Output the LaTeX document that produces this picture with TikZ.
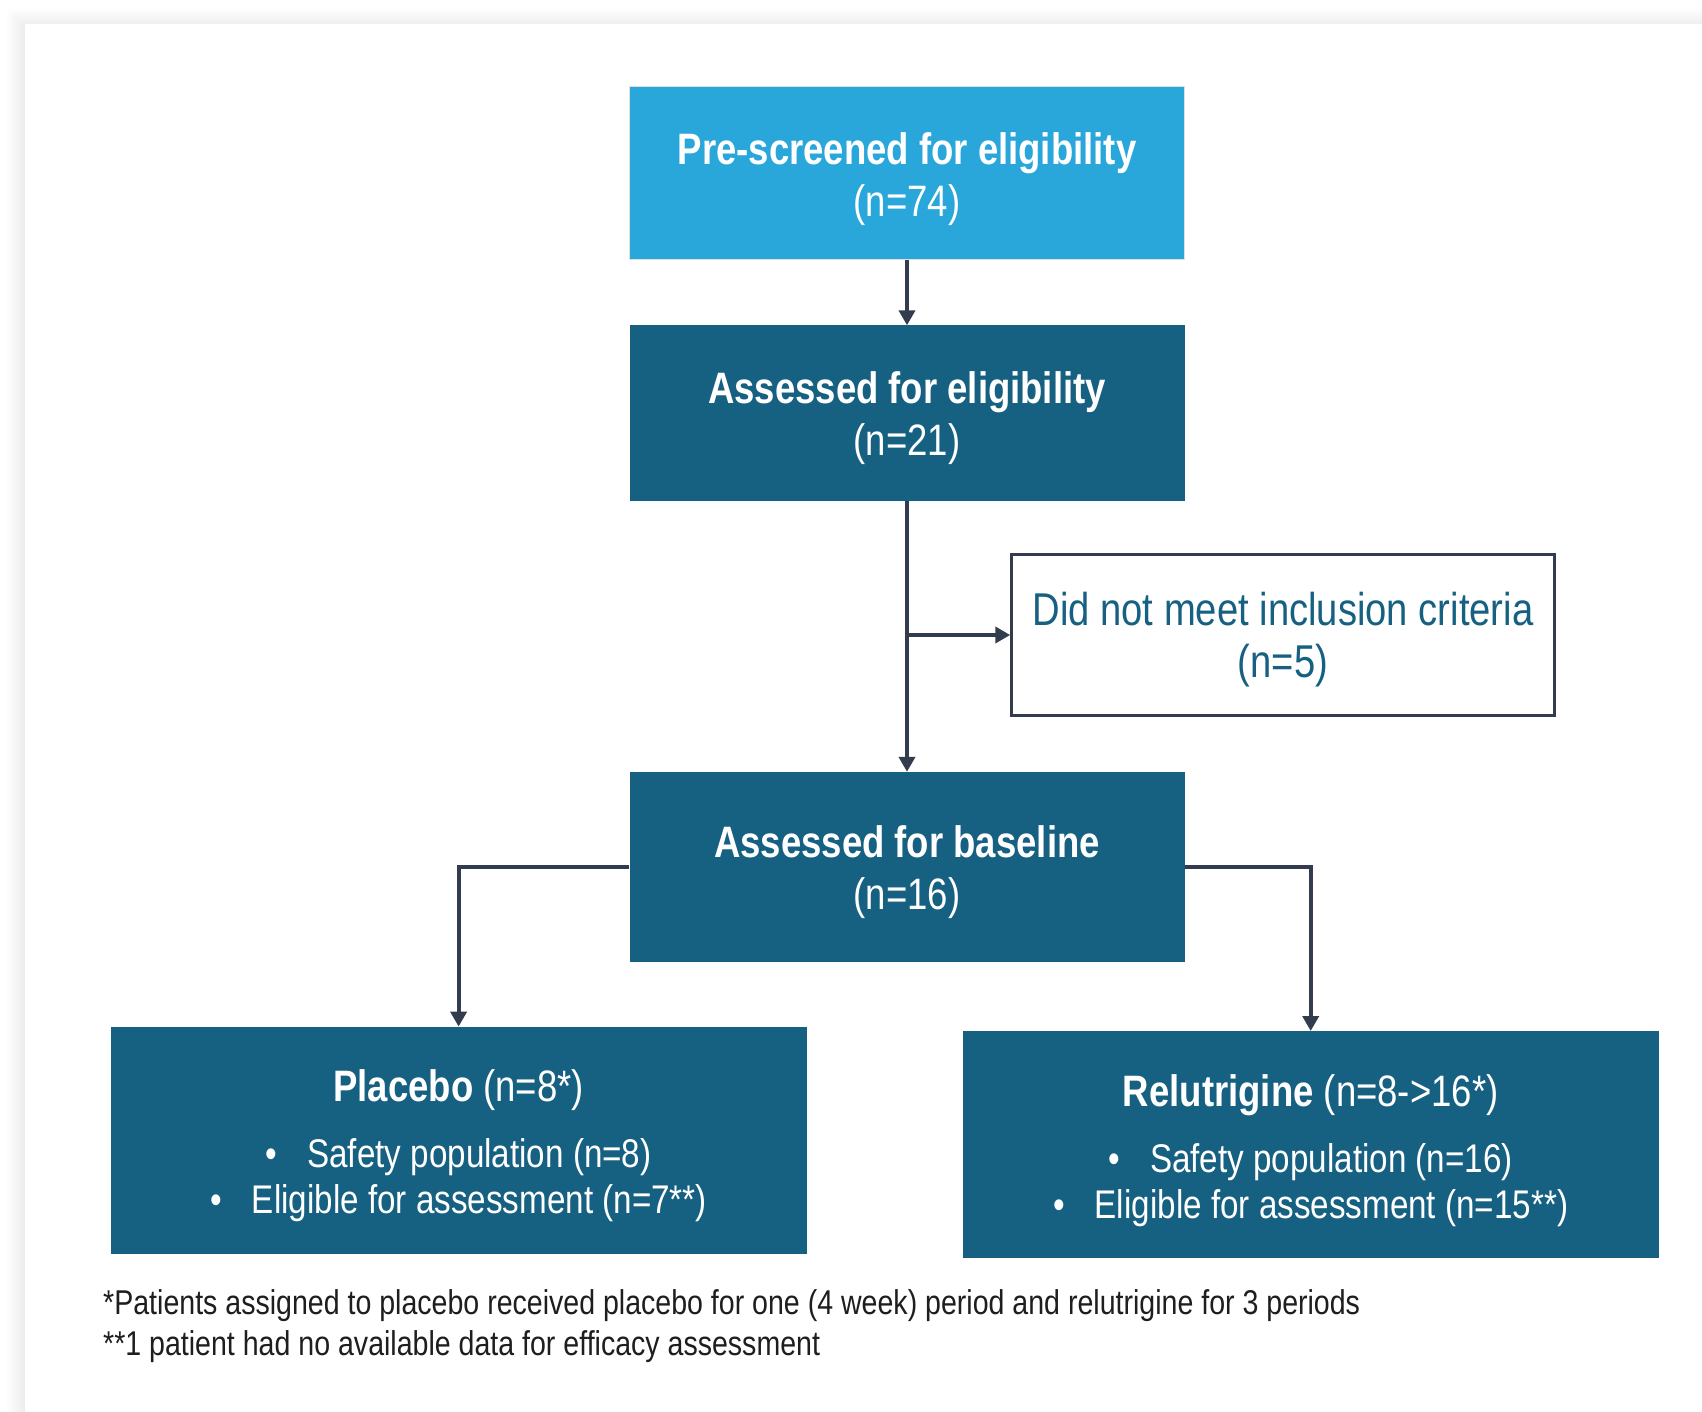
\documentclass[tikz,border=0pt]{standalone}
\usepackage{fontspec}
\setmainfont{Liberation Sans}[FakeStretch=0.83]
\usetikzlibrary{arrows.meta}

\definecolor{skyblue}{HTML}{29A7DB}
\definecolor{deepteal}{HTML}{166082}
\definecolor{linegray}{HTML}{323C4E}
\definecolor{notegray}{HTML}{1E1E1E}

\newcommand{\boxfont}{\fontsize{44}{52}\selectfont}
\newcommand{\listfont}{\fontsize{40}{46}\selectfont}
\newcommand{\notefont}{\fontsize{34.4}{41}\selectfont}
\newcommand{\topstrut}{\rule{0pt}{43pt}}

\begin{document}
\begin{tikzpicture}[x=1pt, y=-1pt,
    box/.style={fill=deepteal, text=white, align=center, inner sep=0pt,
      font=\boxfont, minimum width=555pt},
    armbox/.style={fill=deepteal, text=white, align=center, inner sep=0pt,
      font=\listfont, minimum width=696pt, minimum height=227pt},
    arr/.style={draw=linegray, line width=4pt,
      -{Triangle[length=15pt,width=16pt]}}]

    % page and its shadow
    \useasboundingbox (0,0) rectangle (1702,1412);
    \fill[white] (0,0) rectangle (1702,1412);
    \foreach \i in {1,...,9}
      \fill[black, opacity=0.009] (25-2*\i,24-2*\i+3) rectangle (1702,1412);
    \fill[white] (25,24) rectangle (1702,1412);

    % flow boxes
    \node[box, fill=skyblue, draw=black!12, line width=1pt, minimum height=173pt]
      (pre) at (907,173.5) {\topstrut\bfseries Pre-screened for eligibility\\(n=74)};
    \node[box, minimum height=175pt] (elig) at (907,413)
      {\topstrut\bfseries Assessed for eligibility\\(n=21)};
    \node[box, fill=white, text=deepteal, draw=linegray, line width=2.5pt,
      font=\fontsize{46}{52}\selectfont,
      minimum width=543pt, minimum height=161pt] (excl) at (1283,635)
      {\topstrut Did not meet inclusion criteria\\(n=5)};
    \node[box, minimum height=190pt] (base) at (907,867)
      {\topstrut\bfseries Assessed for baseline\\(n=16)};

    % study arms
    \node[armbox] (plac) at (458.6,1140.3)
      {\topstrut{\boxfont\bfseries Placebo \mdseries(n=8*)}\\[20pt]
       \textbullet\hspace{30pt}Safety population (n=8)\\
       \textbullet\hspace{30pt}Eligible for assessment (n=7**)};
    \node[armbox] (relu) at (1310.7,1144.7)
      {\topstrut{\boxfont\bfseries Relutrigine \mdseries(n=8->16*)}\\[20pt]
       \textbullet\hspace{30pt}Safety population (n=16)\\
       \textbullet\hspace{30pt}Eligible for assessment (n=15**)};

    % connectors
    \coordinate (split) at (elig.south |- excl.west);
    \draw[arr] (pre) -- (elig);
    \draw[arr] (elig) -- (base);
    \draw[arr] (split) -- (excl.west);
    \draw[arr] (base.west) -| (plac.north);
    \draw[arr] (base.east) -| (relu.north);

    % footnotes
    \node[anchor=west, align=left, inner sep=0pt, text=notegray, font=\notefont]
      (notes) at (103,1326)
      {*Patients assigned to placebo received placebo for one (4 week) period and relutrigine for 3 periods\\
       **1 patient had no available data for efficacy assessment};
\end{tikzpicture}
\end{document}
